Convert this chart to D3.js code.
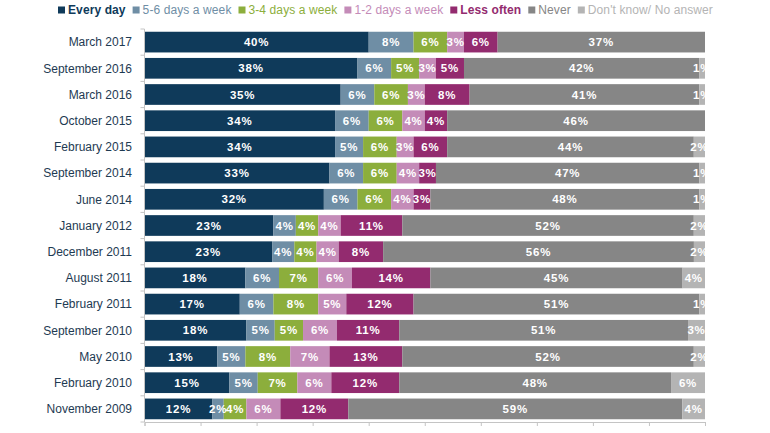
<!DOCTYPE html>
<html><head><meta charset="utf-8">
<script src="https://cdn.jsdelivr.net/npm/d3@7"></script>
<style>
body{margin:0;background:#fff;}
svg{display:block;font-family:"Liberation Sans",Arial,sans-serif;}
</style></head>
<body><svg id="c" width="770" height="433"></svg>
<script>
const categories = ["March 2017","September 2016","March 2016","October 2015","February 2015","September 2014","June 2014","January 2012","December 2011","August 2011","February 2011","September 2010","May 2010","February 2010","November 2009"];
const seriesNames = ["Every day","5-6 days a week","3-4 days a week","1-2 days a week","Less often","Never","Don't know/ No answer"];
const seriesColors = ["#0f3a5a","#6f8ea5","#8cae3c","#c48bb8","#932b6f","#868686","#b4b4b4"];
const everyDay   = [40,38,35,34,34,33,32,23,23,18,17,18,13,15,12];
const fiveSix    = [8,6,6,6,5,6,6,4,4,6,6,5,5,5,2];
const threeFour  = [6,5,6,6,6,6,6,4,4,7,8,5,8,7,4];
const oneTwo     = [3,3,3,4,3,4,4,4,4,6,5,6,7,6,6];
const lessOften  = [6,5,8,4,6,3,3,11,8,14,12,11,13,12,12];
const never      = [37,42,41,46,44,47,48,52,56,45,51,51,52,48,59];
const dontKnow   = [0,1,1,0,2,1,1,2,2,4,1,3,2,6,4];
const seriesValues = [everyDay,fiveSix,threeFour,oneTwo,lessOften,never,dontKnow];

const rows = categories.map((c,i)=>{
  const o = {cat:c};
  seriesNames.forEach((s,j)=>o[s]=seriesValues[j][i]);
  return o;
});

const svg = d3.select("#c");
const mLeft = 144.5, mRight = 705, mTop = 29, mBottom = 422;

const x = d3.scaleLinear().domain([0,1]).range([mLeft,mRight]);
const y = d3.scaleBand().domain(categories).range([mTop,mBottom]).paddingInner(0.21).paddingOuter(0.105);
const color = d3.scaleOrdinal().domain(seriesNames).range(seriesColors);

const stack = d3.stack().keys(seriesNames).offset(d3.stackOffsetExpand);
const layers = stack(rows);

const g = svg.append("g");
layers.forEach(layer=>{
  const key = layer.key;
  const lg = g.append("g");
  lg.selectAll("rect").data(layer).join("rect")
    .attr("x",d=>x(d[0]))
    .attr("y",d=>y(d.data.cat))
    .attr("width",d=>Math.max(0,x(d[1])-x(d[0])))
    .attr("height",y.bandwidth())
    .attr("fill",color(key));
});
layers.forEach(layer=>{
  const key = layer.key;
  g.append("g").selectAll("text").data(layer.filter(d=>d.data[key]>0)).join("text")
    .attr("x",d=>(x(d[0])+x(d[1]))/2)
    .attr("y",d=>y(d.data.cat)+y.bandwidth()/2)
    .attr("dy","0.36em")
    .attr("text-anchor","middle")
    .attr("fill","#fff")
    .attr("font-size",11.5)
    .attr("font-weight","bold")
    .attr("letter-spacing","0.8px")
    .text(d=>d.data[key]+"%");
});

// left axis
const axisColor = "#c4c4c4";
svg.append("line").attr("x1",mLeft).attr("x2",mLeft).attr("y1",mTop).attr("y2",mBottom).attr("stroke",axisColor);
const boundaries = categories.map(c=>y(c)-y.step()*y.paddingInner()/2).concat([mBottom]);
svg.selectAll(".yt").data(boundaries).join("line")
  .attr("x1",mLeft-4).attr("x2",mLeft).attr("y1",d=>d).attr("y2",d=>d).attr("stroke",axisColor);
svg.selectAll(".yl").data(categories).join("text")
  .attr("x",132).attr("y",d=>y(d)+y.bandwidth()/2).attr("dy","0.36em")
  .attr("text-anchor","end").attr("font-size",12).attr("fill","#1e3a52")
  .text(d=>d);

// bottom axis
const xAxis = d3.axisBottom(x).ticks(10).tickSize(4).tickFormat("");
const xa = svg.append("g").attr("transform",`translate(0,${mBottom})`).call(xAxis);
xa.select(".domain").attr("stroke",axisColor);
xa.selectAll(".tick line").attr("stroke",axisColor);

// legend
const leg = svg.append("g").attr("transform","translate(58,10)");
let lx = 0;
seriesNames.forEach((s,i)=>{
  leg.append("rect").attr("x",lx).attr("y",-3.5).attr("width",7).attr("height",7).attr("fill",seriesColors[i]);
  const t = leg.append("text").attr("x",lx+10).attr("y",0).attr("dy","0.36em")
    .attr("font-size",12).attr("fill",seriesColors[i]).attr("letter-spacing","0.1px")
    .attr("font-weight",(i===0||i===4)?"bold":"normal")
    .text(s);
  lx += 10 + t.node().getComputedTextLength() + 7;
});
</script></body></html>
